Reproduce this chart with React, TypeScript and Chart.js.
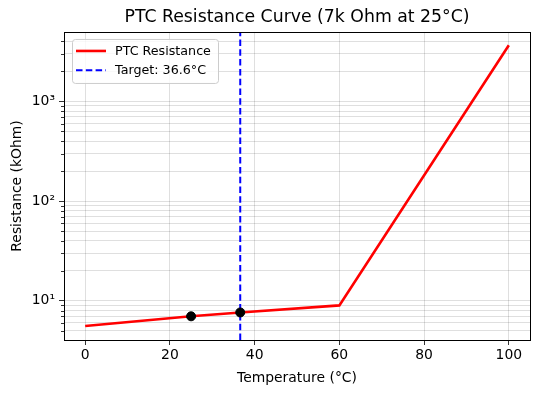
import React, { useEffect, useRef } from "react";
import { Chart, registerables } from "chart.js";

Chart.register(...registerables);

// ---- data ----
const temperatures = [0, 25, 36.6, 60, 100];
const resistances = [5.6, 7.0, 7.65, 9.0, 3650];
const markerTemps = [25, 36.6];
const markerResist = [7.0, 7.65];
const targetTemp = 36.6;
const xRange = [-5, 105];
const yRange = [4.05, 4970];
const xTicks = [0, 20, 40, 60, 80, 100];
const yMajorTicks = [10, 100, 1000];
const yMajorLabels = ["10¹", "10²", "10³"];
const legendLabels = ["PTC Resistance", "Target: 36.6°C"];
const titleText = "PTC Resistance Curve (7k Ohm at 25°C)";
const xTitle = "Temperature (°C)";
const yTitle = "Resistance (kOhm)";

const FONT = "'DejaVu Sans', sans-serif";
const GRID = "rgba(0,0,0,0.16)";

function yTickValues(): number[] {
  const out: number[] = [];
  for (const d of [1, 10, 100, 1000]) {
    for (let m = 1; m <= 9; m++) {
      const v = m * d;
      if (v >= yRange[0] && v <= yRange[1]) out.push(v);
    }
  }
  return out;
}

const isMajor = (v: number) => yMajorTicks.includes(v);

const framePlugin = {
  id: "frame",
  afterDraw(chart: any) {
    const { ctx, chartArea, scales } = chart;
    ctx.save();
    ctx.strokeStyle = "#000";
    ctx.lineWidth = 0.8;
    const ys = scales.y;
    for (const t of ys.ticks) {
      if (isMajor(t.value)) continue;
      const py = Math.round(ys.getPixelForValue(t.value)) + 0.5;
      ctx.beginPath();
      ctx.moveTo(chartArea.left - 3, py);
      ctx.lineTo(chartArea.left, py);
      ctx.stroke();
    }
    ctx.lineWidth = 1;
    ctx.strokeRect(
      Math.round(chartArea.left) + 0.5,
      Math.round(chartArea.top) + 0.5,
      Math.round(chartArea.right - chartArea.left),
      Math.round(chartArea.bottom - chartArea.top)
    );
    ctx.restore();
  },
};

const legendPlugin = {
  id: "boxLegend",
  afterDraw(chart: any) {
    const { ctx, chartArea } = chart;
    const x = chartArea.left + 8;
    const y = chartArea.top + 7;
    const w = 146;
    const h = 44;
    ctx.save();
    ctx.beginPath();
    (ctx as any).roundRect(x + 0.5, y + 0.5, w, h, 3);
    ctx.fillStyle = "rgba(255,255,255,0.8)";
    ctx.fill();
    ctx.strokeStyle = "#cccccc";
    ctx.lineWidth = 1;
    ctx.stroke();
    const ds = chart.data.datasets;
    const entries = [ds[1], ds[2]];
    entries.forEach((d: any, i: number) => {
      const ly = y + 12 + i * 19.3;
      ctx.beginPath();
      ctx.strokeStyle = d.borderColor;
      ctx.lineWidth = d.borderWidth;
      ctx.setLineDash(d.borderDash || []);
      ctx.moveTo(x + 4, ly);
      ctx.lineTo(x + 34, ly);
      ctx.stroke();
      ctx.setLineDash([]);
      ctx.fillStyle = "#000";
      ctx.font = `12.7px ${FONT}`;
      ctx.textBaseline = "middle";
      ctx.textAlign = "left";
      ctx.fillText(legendLabels[i], x + 43, ly + 0.5);
    });
    ctx.restore();
  },
};

export default function App() {
  const ref = useRef<HTMLCanvasElement>(null);
  useEffect(() => {
    if (!ref.current) return;
    Chart.defaults.font.family = FONT;
    Chart.defaults.color = "#000";
    const chart = new Chart(ref.current, {
      type: "scatter",
      data: {
        datasets: [
          {
            label: "points",
            data: markerTemps.map((t, i) => ({ x: t, y: markerResist[i] })),
            backgroundColor: "#000",
            borderColor: "#000",
            pointRadius: 4.5,
            showLine: false,
          },
          {
            label: legendLabels[0],
            data: temperatures.map((t, i) => ({ x: t, y: resistances[i] })),
            borderColor: "#ff0000",
            backgroundColor: "#ff0000",
            borderWidth: 2.6,
            pointRadius: 0,
            showLine: true,
          },
          {
            label: legendLabels[1],
            data: [
              { x: targetTemp, y: yRange[0] },
              { x: targetTemp, y: yRange[1] },
            ],
            borderColor: "#0000ff",
            backgroundColor: "#0000ff",
            borderWidth: 2,
            borderDash: [6.5, 3.3],
            pointRadius: 0,
            showLine: true,
          },
        ],
      },
      options: {
        responsive: false,
        animation: false,
        layout: { padding: { top: 0, right: 9, left: 0, bottom: 0 } },
        plugins: {
          legend: { display: false },
          tooltip: { enabled: false },
          title: {
            display: true,
            text: titleText,
            fullSize: false,
            color: "#000",
            font: { size: 17.3, weight: "normal", lineHeight: 1.2 },
            padding: { top: 7.5, bottom: 3.7 },
          },
        },
        scales: {
          x: {
            type: "linear",
            min: xRange[0],
            max: xRange[1],
            afterBuildTicks: (s: any) => {
              s.ticks = xTicks.map((v) => ({ value: v }));
            },
            afterFit: (s: any) => {
              s.height = 56;
            },
            grid: { color: GRID, lineWidth: 0.8, tickLength: 5, tickColor: "#000", tickWidth: 0.8 },
            border: { display: false },
            ticks: { color: "#000", font: { size: 13.9 }, padding: 2, maxRotation: 0, autoSkip: false },
            title: {
              display: true,
              text: xTitle,
              color: "#000",
              font: { size: 13.9 },
              padding: { top: 0, bottom: 9 },
            },
          },
          y: {
            type: "logarithmic",
            min: yRange[0],
            max: yRange[1],
            afterBuildTicks: (s: any) => {
              s.ticks = yTickValues().map((v) => ({ value: v, major: isMajor(v) }));
            },
            afterFit: (s: any) => {
              s.width = 64;
            },
            grid: {
              color: GRID,
              lineWidth: 0.8,
              tickLength: 5,
              tickWidth: 0.8,
              tickColor: (c: any) => (c.tick && isMajor(c.tick.value) ? "#000" : "rgba(0,0,0,0)"),
            },
            border: { display: false },
            ticks: {
              color: "#000",
              font: { size: 13.9 },
              padding: 4,
              autoSkip: false,
              callback: (v: any) => {
                const i = yMajorTicks.indexOf(Number(v));
                return i >= 0 ? yMajorLabels[i] : "";
              },
            },
            title: {
              display: true,
              text: yTitle,
              color: "#000",
              font: { size: 13.9 },
              padding: { top: 9, bottom: 0 },
            },
          },
        },
      },
      plugins: [framePlugin, legendPlugin],
    } as any);
    return () => chart.destroy();
  }, []);
  return (
    <div style={{ position: "absolute", left: 0, top: 0, width: 539, height: 396, background: "#fff" }}>
      <canvas ref={ref} width={539} height={396} style={{ display: "block" }} />
    </div>
  );
}
